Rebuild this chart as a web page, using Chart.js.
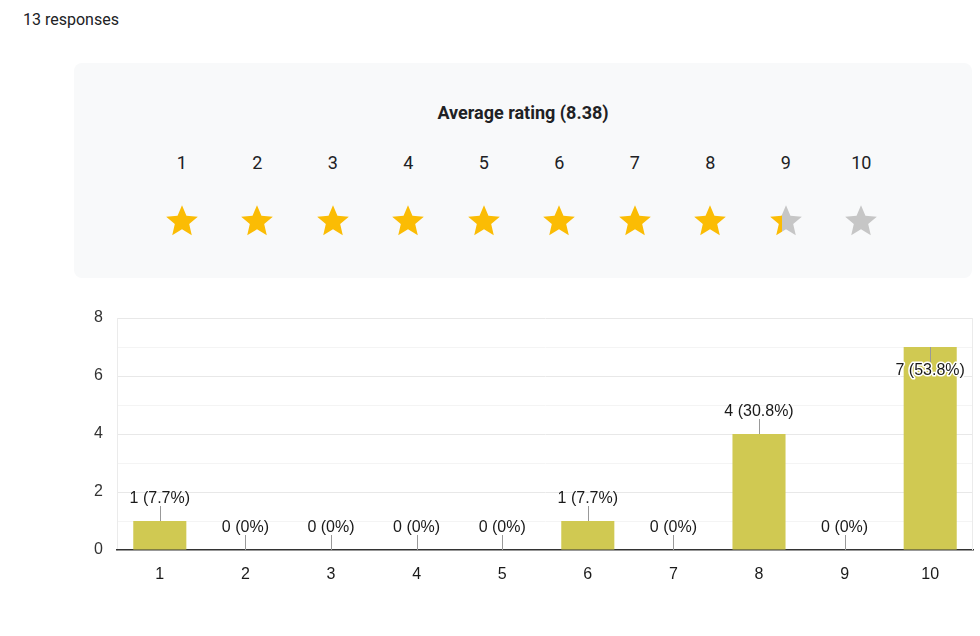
<!DOCTYPE html>
<html>
<head>
<meta charset="utf-8">
<script src="https://cdn.jsdelivr.net/npm/chart.js@4"></script>
<style>
  body { margin: 0; background: #fff; width: 980px; height: 636px; position: relative; overflow: hidden; font-family: Roboto, "Noto Sans", sans-serif; color: #202124; }
  .responses { position: absolute; left: 23px; top: 10px; font-size: 16px; line-height: 20px; }
  .card { position: absolute; left: 74px; top: 63px; width: 898px; height: 215px; background: #f8f9fa; border-radius: 8px; }
  .title { position: absolute; left: 0; right: 0; top: 40px; text-align: center; font-weight: 700; font-size: 18px; line-height: 20px; }
  .row { position: absolute; left: 70px; display: flex; }
  .row div { width: 75.5px; text-align: center; }
  .nums { top: 90px; font-size: 18px; line-height: 20px; }
  .stars { top: 139px; height: 38px; }
  .stars svg { display: block; margin: 0 auto; }
  .chart-box { position: absolute; left: 0; top: 290px; width: 980px; height: 320px; }
</style>
</head>
<body>
<div class="responses" id="responses"></div>
<div class="card">
  <div class="title" id="title"></div>
  <div class="row nums" id="nums"></div>
  <div class="row stars" id="stars"></div>
</div>
<div class="chart-box"><canvas id="ratingChart"></canvas></div>

<script>
const ratings = ["1", "2", "3", "4", "5", "6", "7", "8", "9", "10"]
const counts = [1, 0, 0, 0, 0, 1, 0, 4, 0, 7]
const yTicks = [0, 2, 4, 6, 8]

const STAR_ON = "#fbbc04"
const STAR_OFF = "#c6c6c6"
const BAR = "#d0c952"
const FONT = "'Liberation Sans', Arial, sans-serif"

document.addEventListener("DOMContentLoaded", () => {
  const total = counts.reduce((a, b) => a + b, 0)
  const avg = counts.reduce((s, c, i) => s + c * (i + 1), 0) / total

  document.getElementById("responses").textContent = total + " responses"
  document.getElementById("title").textContent = "Average rating (" + avg.toFixed(2) + ")"

  buildStars(avg)
  buildChart(total)
})

function buildStars(avg) {
  const nums = document.getElementById("nums")
  const stars = document.getElementById("stars")
  const path = "M12 17.27L18.18 21l-1.64-7.03L22 9.24l-7.19-.61L12 2 9.19 8.63 2 9.24l5.46 4.73L5.82 21z"

  ratings.forEach((r, i) => {
    const n = document.createElement("div")
    n.textContent = r
    nums.appendChild(n)

    // how much of this star is filled
    const fill = Math.max(0, Math.min(1, avg - i))
    const pct = (fill * 100).toFixed(1) + "%"
    const s = document.createElement("div")
    s.innerHTML =
      '<svg width="38" height="38" viewBox="0 0 24 24">' +
      '<defs><linearGradient id="g' + i + '" x1="0" x2="1" y1="0" y2="0">' +
      '<stop offset="' + pct + '" stop-color="' + STAR_ON + '"/>' +
      '<stop offset="' + pct + '" stop-color="' + STAR_OFF + '"/>' +
      "</linearGradient></defs>" +
      '<path d="' + path + '" fill="url(#g' + i + ')"/></svg>'
    stars.appendChild(s)
  })
}

function buildChart(total) {
  const ctx = document.getElementById("ratingChart")

  // value labels with a short leader line, like the forms summary
  const barLabels = {
    id: "barLabels",
    afterDatasetsDraw(chart) {
      const c = chart.ctx
      const area = chart.chartArea
      const meta = chart.getDatasetMeta(0)
      c.save()
      c.font = "16px " + FONT
      c.textAlign = "center"
      c.textBaseline = "middle"
      meta.data.forEach((bar, i) => {
        const v = counts[i]
        const p = Math.round((v / total) * 1000) / 10
        const text = v + " (" + p + "%)"
        let lineEnd = bar.y - 15
        let textY = bar.y - 22
        let inside = false
        if (textY - 9 < area.top) {
          lineEnd = bar.y + 15
          textY = bar.y + 24
          inside = true
        }
        c.strokeStyle = "#999"
        c.lineWidth = 1
        c.beginPath()
        c.moveTo(Math.round(bar.x) + 0.5, bar.y)
        c.lineTo(Math.round(bar.x) + 0.5, lineEnd)
        c.stroke()
        if (inside) {
          c.strokeStyle = "#fff"
          c.lineWidth = 3
          c.lineJoin = "round"
          c.strokeText(text, bar.x, textY)
        }
        c.fillStyle = "#1a1a1a"
        c.fillText(text, bar.x, textY)
      })
      // right edge of plot
      c.strokeStyle = "#ebebeb"
      c.lineWidth = 1
      c.beginPath()
      c.moveTo(area.right - 0.5, area.top)
      c.lineTo(area.right - 0.5, area.bottom)
      c.stroke()
      c.restore()
    },
  }

  new Chart(ctx, {
    type: "bar",
    data: {
      labels: ratings,
      datasets: [
        {
          data: counts,
          backgroundColor: BAR,
          borderWidth: 0,
          barPercentage: 0.62,
          categoryPercentage: 1,
        },
      ],
    },
    options: {
      responsive: true,
      maintainAspectRatio: false,
      animation: false,
      layout: { padding: { left: 0, right: 7, top: 28, bottom: 0 } },
      plugins: {
        legend: { display: false },
        tooltip: { enabled: false },
      },
      scales: {
        y: {
          min: 0,
          max: 8,
          afterFit: (s) => { s.width = 117 },
          border: { display: true, color: "#ebebeb" },
          grid: {
            drawTicks: false,
            color: (c) => {
              if (c.tick.value === 0) return "rgba(0,0,0,0)"
              return yTicks.includes(c.tick.value) ? "#e8e8e8" : "#f4f4f4"
            },
          },
          ticks: {
            stepSize: 1,
            padding: 14,
            color: "#333",
            font: { family: FONT, size: 16 },
            callback: (v) => (yTicks.includes(v) ? v : ""),
          },
        },
        x: {
          afterFit: (s) => { s.height = 60 },
          border: { display: true, color: "#333", width: 1.5 },
          grid: { display: false },
          ticks: {
            padding: 7,
            color: "#1a1a1a",
            font: { family: FONT, size: 16 },
          },
        },
      },
    },
    plugins: [barLabels],
  })
}
</script>
</body>
</html>
